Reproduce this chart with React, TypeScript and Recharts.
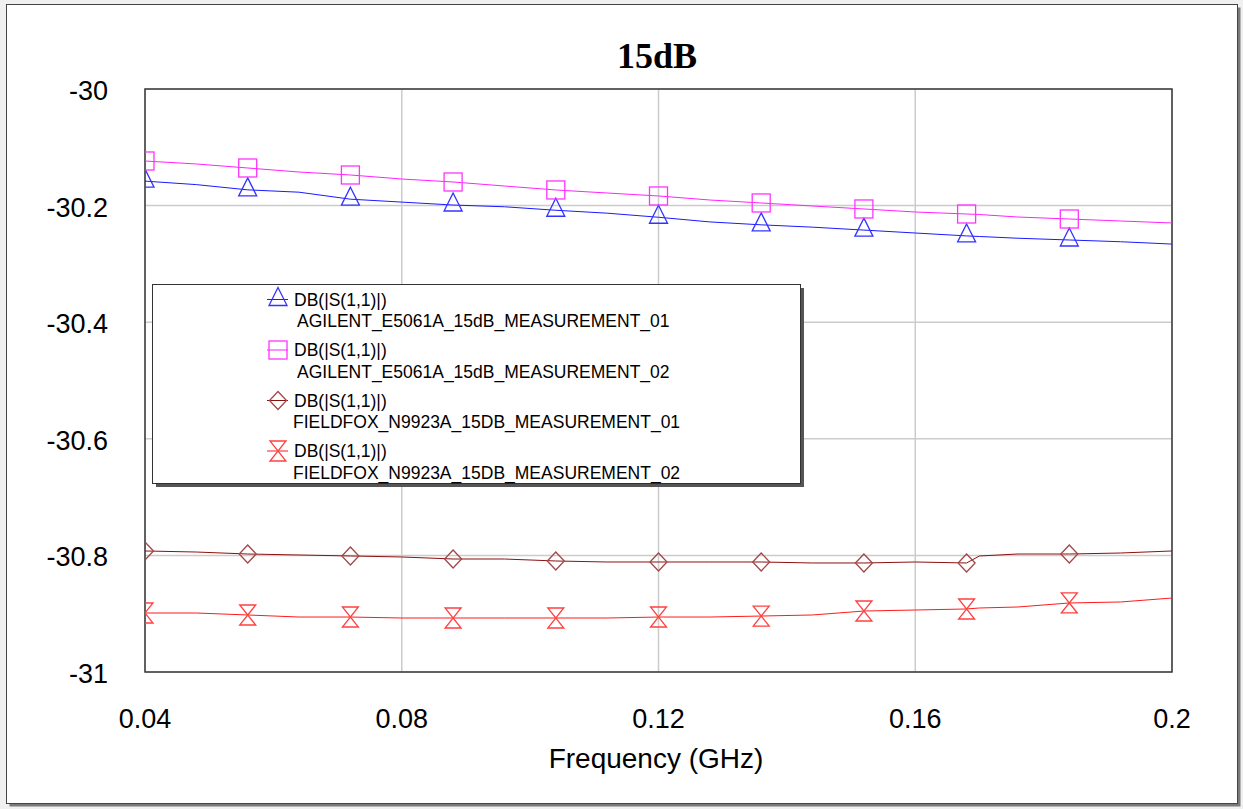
import React from "react";
import {
  ComposedChart,
  Line,
  XAxis,
  YAxis,
  CartesianGrid,
  ReferenceArea,
} from "recharts";

// frequency points (GHz)
const FREQ = [
  0.04, 0.048, 0.056, 0.064, 0.072, 0.08, 0.088, 0.096, 0.104, 0.112, 0.12,
  0.128, 0.136, 0.144, 0.152, 0.16, 0.168, 0.17, 0.176, 0.184, 0.192, 0.2,
];
// where the symbols sit on each trace
const MARKER_FREQ = [0.04, 0.056, 0.072, 0.088, 0.104, 0.12, 0.136, 0.152, 0.168, 0.184];

const AGILENT_01 = [
  -30.158, -30.164, -30.173, -30.177, -30.189, -30.194, -30.199, -30.202, -30.208,
  -30.213, -30.22, -30.228, -30.233, -30.237, -30.242, -30.247, -30.252, -30.253,
  -30.256, -30.259, -30.262, -30.266,
];
const AGILENT_02 = [
  -30.1235, -30.1286, -30.1355, -30.1424, -30.1475, -30.1544, -30.1595, -30.1664,
  -30.1732, -30.1784, -30.1835, -30.1904, -30.1955, -30.2007, -30.2058, -30.211,
  -30.2144, -30.2153, -30.2196, -30.223, -30.2264, -30.2298,
];
const FIELDFOX_01 = [
  -30.7924, -30.7942, -30.7976, -30.7993, -30.801, -30.8027, -30.8062, -30.8062,
  -30.8096, -30.8113, -30.8113, -30.8113, -30.8113, -30.813, -30.813, -30.8113,
  -30.813, -30.801, -30.7976, -30.7976, -30.7959, -30.7924,
];
const FIELDFOX_02 = [
  -30.8988, -30.8988, -30.9022, -30.9057, -30.9057, -30.9074, -30.9074, -30.9074,
  -30.9074, -30.9074, -30.9057, -30.9057, -30.904, -30.9022, -30.8954, -30.8937,
  -30.8919, -30.8902, -30.8885, -30.8816, -30.8799, -30.8731,
];

const X_TICKS = [0.04, 0.08, 0.12, 0.16, 0.2];
const Y_TICKS = [-31, -30.8, -30.6, -30.4, -30.2, -30];

const TITLE = "15dB";
const X_LABEL = "Frequency (GHz)";
const TRACE_NAME = "DB(|S(1,1)|)";
const SERIES_NAMES = [
  "AGILENT_E5061A_15dB_MEASUREMENT_01",
  "AGILENT_E5061A_15dB_MEASUREMENT_02",
  "FIELDFOX_N9923A_15DB_MEASUREMENT_01",
  "FIELDFOX_N9923A_15DB_MEASUREMENT_02",
];

const FONT = "'Liberation Sans', Arial, sans-serif";

type MarkProps = { cx: number; cy: number; color: string };

function Triangle({ cx, cy, color }: MarkProps) {
  return (
    <path
      d={`M${cx},${cy - 12} L${cx + 9},${cy + 6} L${cx - 9},${cy + 6} Z`}
      fill="none"
      stroke={color}
      strokeWidth={1.3}
    />
  );
}

function Square({ cx, cy, color }: MarkProps) {
  return (
    <rect x={cx - 9} y={cy - 9} width={18} height={18} fill="none" stroke={color} strokeWidth={1.3} />
  );
}

function Diamond({ cx, cy, color }: MarkProps) {
  return (
    <path
      d={`M${cx},${cy - 9} L${cx + 8.5},${cy} L${cx},${cy + 9} L${cx - 8.5},${cy} Z`}
      fill="none"
      stroke={color}
      strokeWidth={1.3}
    />
  );
}

function Hourglass({ cx, cy, color }: MarkProps) {
  return (
    <path
      d={`M${cx - 8},${cy - 10} L${cx + 8},${cy - 10} L${cx - 8},${cy + 10} L${cx + 8},${cy + 10} Z`}
      fill="none"
      stroke={color}
      strokeWidth={1.3}
    />
  );
}

const SERIES = [
  { key: "a1", values: AGILENT_01, line: "#1a1aff", mark: "#3333ff", Shape: Triangle, nameX: 297 },
  { key: "a2", values: AGILENT_02, line: "#ff22ff", mark: "#ff33ff", Shape: Square, nameX: 297 },
  { key: "f1", values: FIELDFOX_01, line: "#8b1010", mark: "#a04848", Shape: Diamond, nameX: 293 },
  { key: "f2", values: FIELDFOX_02, line: "#ff1a1a", mark: "#ff4040", Shape: Hourglass, nameX: 293 },
];

const rows = FREQ.map((f, i) => {
  const row: Record<string, number> = { f };
  SERIES.forEach((s) => {
    row[s.key] = s.values[i];
  });
  return row;
});

function makeDot(Shape: (p: MarkProps) => React.ReactElement, color: string) {
  return (props: any) => {
    const { cx, cy, payload, index } = props;
    if (!MARKER_FREQ.includes(payload.f)) return <g key={index} />;
    return (
      <g key={index}>
        <Shape cx={cx} cy={cy} color={color} />
      </g>
    );
  };
}

function XTick(props: any) {
  const { x, payload } = props;
  return (
    <text x={x} y={728} textAnchor="middle" fontSize={27} fontFamily={FONT} fill="#000">
      {String(payload.value)}
    </text>
  );
}

function YTick(props: any) {
  const { y, payload } = props;
  return (
    <text x={108} y={y + 11} textAnchor="end" fontSize={27} fontFamily={FONT} fill="#000">
      {String(payload.value)}
    </text>
  );
}

export default function App() {
  return (
    <div
      style={{
        position: "absolute",
        left: 0,
        top: 0,
        width: 1243,
        height: 809,
        background: "#f0f0f0",
        overflow: "hidden",
      }}
    >
      <svg width={1243} height={809} style={{ position: "absolute", left: 0, top: 0 }}>
        <rect x={9.5} y={7.5} width={1231} height={799} fill="#7a7a7a" />
        <rect x={6.5} y={4.5} width={1231} height={799} fill="#fff" stroke="#444" strokeWidth={1} />
        <text
          x={657}
          y={68}
          textAnchor="middle"
          fontSize={36}
          fontWeight="bold"
          fontFamily="'Liberation Serif', 'Times New Roman', serif"
          fill="#000"
        >
          {TITLE}
        </text>
        <text x={656} y={768} textAnchor="middle" fontSize={28} fontFamily={FONT} fill="#000">
          {X_LABEL}
        </text>
      </svg>

      <div style={{ position: "absolute", left: 0, top: 0 }}>
        <ComposedChart
          width={1243}
          height={809}
          data={rows}
          margin={{ top: 89, right: 71, bottom: 77, left: 45 }}
        >
          <CartesianGrid stroke="#cccccc" strokeWidth={1.5} />
          <XAxis
            dataKey="f"
            type="number"
            domain={[0.04, 0.2]}
            ticks={X_TICKS}
            axisLine={false}
            tickLine={false}
            height={60}
            tick={<XTick />}
            allowDataOverflow
          />
          <YAxis
            type="number"
            domain={[-31, -30]}
            ticks={Y_TICKS}
            width={100}
            axisLine={false}
            tickLine={false}
            tick={<YTick />}
            allowDataOverflow
          />
          {SERIES.map((s) => (
            <Line
              key={s.key}
              dataKey={s.key}
              type="linear"
              stroke={s.line}
              strokeWidth={1}
              dot={makeDot(s.Shape, s.mark)}
              activeDot={false}
              isAnimationActive={false}
            />
          ))}
          <ReferenceArea
            x1={0.04}
            x2={0.2}
            y1={-31}
            y2={-30}
            fill="none"
            fillOpacity={0}
            stroke="#3a3a3a"
            strokeWidth={1.5}
            ifOverflow="visible"
          />
        </ComposedChart>
      </div>

      <svg
        width={1243}
        height={809}
        style={{ position: "absolute", left: 0, top: 0, pointerEvents: "none" }}
      >
        <rect x={156} y={288} width={648} height={199} fill="#555" />
        <rect x={152.5} y={284.5} width={648} height={199} fill="#fff" stroke="#333" strokeWidth={1} />
        {SERIES.map((s, i) => {
          const base = 305.5 + i * 50.5;
          const Shape = s.Shape;
          return (
            <g key={s.key}>
              <line x1={267} x2={288} y1={base - 6} y2={base - 6} stroke={s.line} strokeWidth={1} />
              <Shape cx={278} cy={base - 6} color={s.mark} />
              <text x={294} y={base} fontSize={17.5} fontFamily={FONT} fill="#000">
                {TRACE_NAME}
              </text>
              <text x={s.nameX} y={base + 21.5} fontSize={17.5} fontFamily={FONT} fill="#000">
                {SERIES_NAMES[i]}
              </text>
            </g>
          );
        })}
      </svg>
    </div>
  );
}
